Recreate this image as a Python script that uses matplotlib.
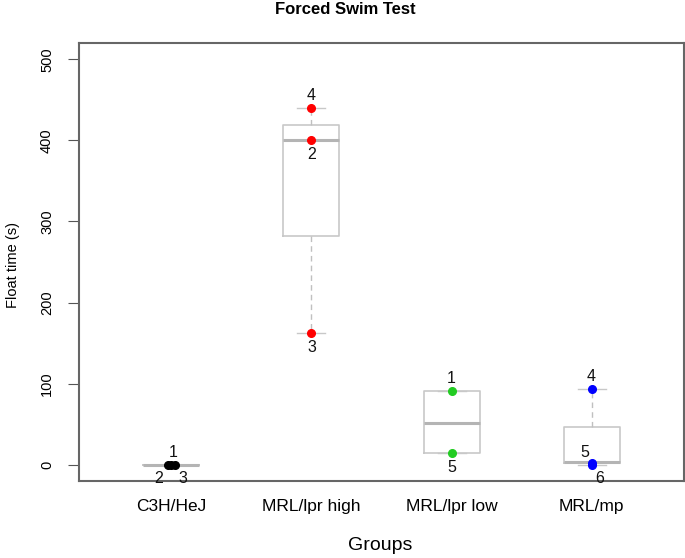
import matplotlib
matplotlib.use("Agg")
import matplotlib.pyplot as plt

plt.rcParams['font.family'] = ['Liberation Sans', 'DejaVu Sans']

groups = ["C3H/HeJ", "MRL/lpr high", "MRL/lpr low", "MRL/mp"]
# box statistics: lower whisker, Q1, median, Q3, upper whisker
whislo = [0, 162, 14, 0]
q1 = [0, 282, 14, 2]
med = [0, 400, 52, 3]
q3 = [0, 419, 91, 47]
whishi = [0, 440, 91, 93]

# labelled points per group
pt_group = [0, 0, 0, 1, 1, 1, 2, 2, 3, 3, 3]
pt_value = [0, 0, 0, 440, 400, 162, 91, 14, 93, 2, 0]
pt_label = ["1", "2", "3", "4", "2", "3", "1", "5", "4", "5", "6"]
pt_jitter = [0.0, -0.025, 0.025, 0, 0, 0, 0, 0, 0, 0, 0]
pt_colors = ["black", "#FF0000", "#22CC22", "#0000FF"]
# label offsets (points)
lab_dx = [1, -7, 6, 0, 0, 0, 0, 0, 0, -5, 6]
lab_dy = [9, -10, -10, 9, -10, -10, 9, -10, 9, 8, -10]

fig = plt.figure(figsize=(6.85, 5.58), dpi=100)
ax = fig.add_axes([79/685, 1-481/558, (684-79)/685, (481-43)/558])

stats = []
for i, g in enumerate(groups):
    stats.append(dict(label=g, whislo=whislo[i], q1=q1[i], med=med[i],
                      q3=q3[i], whishi=whishi[i], fliers=[]))
positions = list(range(1, len(groups) + 1))
ax.bxp(stats, positions=positions, widths=0.4, showfliers=False,
       boxprops=dict(color="#C8C8C8", lw=1.2),
       whiskerprops=dict(color="#C0C0C0", lw=1.0, ls=(0, (4, 3))),
       capprops=dict(color="#C8C8C8", lw=1.0),
       medianprops=dict(color="#B4B4B4", lw=2.2),
       capwidths=0.2)

for k in range(len(pt_value)):
    gi = pt_group[k]
    x = positions[gi] + pt_jitter[k]
    ax.plot(x, pt_value[k], 'o', color=pt_colors[gi], ms=5.5, mec=pt_colors[gi], zorder=5)
    ax.annotate(pt_label[k], (x, pt_value[k]), xytext=(lab_dx[k], lab_dy[k]),
                textcoords='offset points', ha='center', va='center',
                fontsize=11.5, color="#111111")

ax.set_xlim(0.34, 4.66)
ax.set_ylim(-20, 520)
ax.set_yticks([0, 100, 200, 300, 400, 500])
ax.set_yticklabels(["0", "100", "200", "300", "400", "500"], rotation=90, va='center', fontsize=10.5)
ax.set_xticks(positions)
ax.set_xticklabels(groups, fontsize=12.5)
ax.tick_params(axis='x', length=0, pad=13)
ax.tick_params(axis='y', length=8, color="#555555", pad=10)
for s in ax.spines.values():
    s.set_color("#666666")
    s.set_linewidth(1.5)

fig.text(345/685, 1-10/558, "Forced Swim Test", ha='center', va='center',
         fontsize=12, fontweight='bold')
fig.text(380/685, 1-546/558, "Groups", ha='center', va='center', fontsize=14)
fig.text(13/685, 1-265/558, "Float time (s)", ha='center', va='center',
         fontsize=10.5, rotation=90)

fig.savefig("out.png", dpi=100)
